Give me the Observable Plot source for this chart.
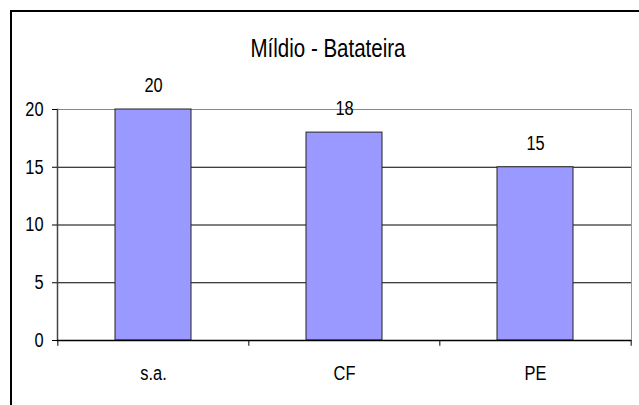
<!DOCTYPE html>
<html>
<head>
<meta charset="utf-8">
<script src="https://cdn.jsdelivr.net/npm/d3@7"></script>
<script src="https://cdn.jsdelivr.net/npm/@observablehq/plot@0.6"></script>
<style>
  html, body { margin: 0; padding: 0; background: #fff; }
  #wrap { position: relative; width: 639px; height: 405px; overflow: hidden; background: #fff; }
  #border { position: absolute; left: 10px; top: 10px; width: 700px; height: 500px; border: 2px solid #000; box-sizing: border-box; }
  #title { position: absolute; left: 0; top: 36px; width: 656px; text-align: center;
           font-family: 'Liberation Sans', Arial, sans-serif; font-size: 25px; line-height: 25px; color: #000;
           transform: scale(0.82, 1); transform-origin: 328px 0; }
  #chart { position: absolute; left: 0; top: 0; }
</style>
</head>
<body>
<div id="wrap">
  <div id="border"></div>
  <div id="chart"></div>
  <div id="title">Míldio - Batateira</div>
</div>
<script>
const categories = ["s.a.", "CF", "PE"];
const values = [20, 18, 15];
const yTicks = [0, 5, 10, 15, 20];
const gridValues = [5, 10, 15];

const data = categories.map((c, i) => ({cat: c, val: values[i]}));

const W = 639, H = 405, mL = 57, mR = 8, mT = 109, mB = 65;
const step = (W - mL - mR) / categories.length;
const font = "'Liberation Sans', Arial, sans-serif";
const narrow = 0.82;

const chart = Plot.plot({
  width: W,
  height: H,
  marginLeft: mL,
  marginRight: mR,
  marginTop: mT,
  marginBottom: mB,
  style: {fontFamily: font, fontSize: "20px", color: "#000", background: "transparent"},
  x: {domain: categories, paddingInner: 0.6, paddingOuter: 0.3, label: null},
  y: {domain: [0, 20], label: null},
  marks: [
    Plot.ruleY(gridValues, {stroke: "#000", strokeWidth: 1}),
    Plot.ruleY([20], {stroke: "#888", strokeWidth: 1}),
    Plot.frame({anchor: "right", stroke: "#999", strokeWidth: 1}),
    Plot.barY(data, {x: "cat", y: "val", fill: "#9999ff", stroke: "#222", strokeWidth: 1}),
    Plot.text(data, {x: "cat", y: "val", text: d => String(d.val), dy: -24, fontSize: 20, fill: "#000"}),
    Plot.frame({anchor: "left", stroke: "#444", strokeWidth: 1.5}),
    Plot.ruleY([0], {stroke: "#000", strokeWidth: 1.5}),
    Plot.ruleX(categories, {x: d => d, dx: -step / 2, y1: 0, y2: -0.5, stroke: "#000"}),
    Plot.ruleX([categories[categories.length - 1]], {x: d => d, dx: step / 2, y1: 0, y2: -0.5, stroke: "#000"}),
    Plot.axisY({ticks: yTicks, tickSize: 5, tickPadding: 9, fontSize: 20, stroke: "#000", strokeOpacity: 1}),
    Plot.axisX({tickSize: 0, tickPadding: 25, fontSize: 20})
  ]
});

document.getElementById("chart").appendChild(chart);

// Narrow (condensed) lettering like the reference: squeeze each text's glyphs horizontally
chart.querySelectorAll("text").forEach(t => {
  const L = t.getComputedTextLength();
  if (L > 0) {
    t.setAttribute("textLength", (L * narrow).toFixed(2));
    t.setAttribute("lengthAdjust", "spacingAndGlyphs");
  }
});
</script>
</body>
</html>
